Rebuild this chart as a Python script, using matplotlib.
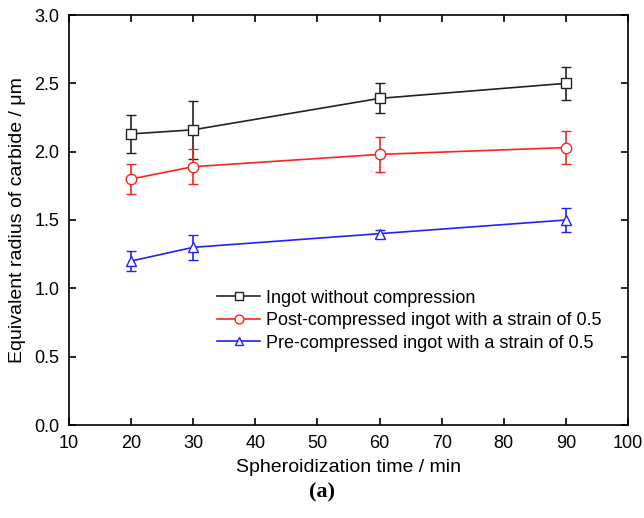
import matplotlib.pyplot as plt
import numpy as np

plt.rcParams['font.family'] = ['Liberation Sans', 'DejaVu Sans']

times = [20, 30, 60, 90]
ingot = [2.13, 2.16, 2.39, 2.50]
ingot_err = [0.14, 0.21, 0.11, 0.12]
post = [1.80, 1.89, 1.98, 2.03]
post_err = [0.11, 0.13, 0.13, 0.12]
pre = [1.20, 1.30, 1.40, 1.50]
pre_err = [0.07, 0.09, 0.03, 0.09]

labels = ['Ingot without compression',
          'Post-compressed ingot with a strain of 0.5',
          'Pre-compressed ingot with a strain of 0.5']

fig = plt.figure(figsize=(6.44, 5.18), dpi=100)
ax = fig.add_axes([69/644, 1 - 425/518, (628-69)/644, (425-15)/518])

series = [(ingot, ingot_err, '#222222', 's'),
          (post, post_err, '#ff2020', 'o'),
          (pre, pre_err, '#2020ff', '^')]
handles = []
for (vals, err, col, mk), lab in zip(series, labels):
    c = ax.errorbar(times, vals, yerr=err, color=col, marker=mk, markersize=7.5,
                    markerfacecolor='white', markeredgecolor=col, markeredgewidth=1,
                    lw=1.2, capsize=3.5, capthick=1.2, elinewidth=1.2, label=lab)
    handles.append(c[0])

ax.set_xlim(10, 100)
ax.set_ylim(0, 3.0)
ax.set_xticks(np.arange(10, 101, 10))
ax.set_yticks(np.arange(0, 3.01, 0.5))
ax.yaxis.set_major_formatter(plt.FormatStrFormatter('%.1f'))
ax.tick_params(direction='in', top=True, right=True, labelsize=13, length=5, width=1.2, pad=7)
for s in ax.spines.values():
    s.set_linewidth(1.2)

ax.set_xlabel('Spheroidization time / min', fontsize=14, labelpad=5)
ax.set_ylabel('Equivalent radius of carbide / μm', fontsize=14, labelpad=6)

ax.legend(handles, labels, loc='upper left', bbox_to_anchor=(0.265, 0.33), frameon=False,
          fontsize=13, handlelength=2.4, handletextpad=0.3, labelspacing=0.3,
          borderaxespad=0, borderpad=0, markerscale=0.85)

fig.text(0.5, 0.04, '(a)', ha='center', fontsize=16, fontweight='bold', family='Liberation Serif')

fig.savefig('out.png', dpi=100)
